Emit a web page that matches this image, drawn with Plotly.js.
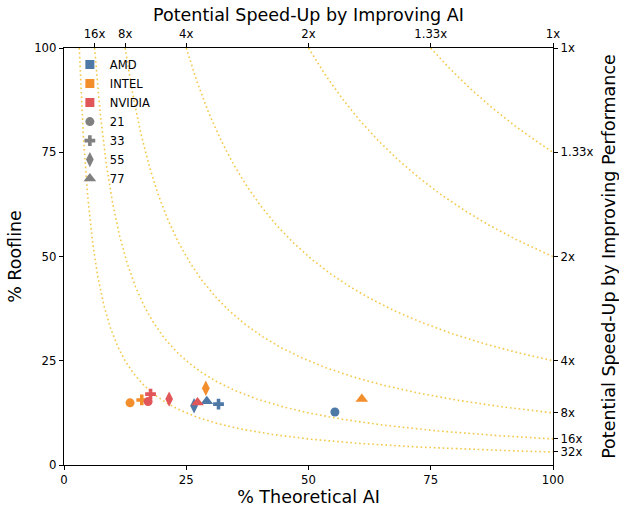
<!DOCTYPE html>
<html>
<head>
<meta charset="utf-8">
<script src="https://cdn.plot.ly/plotly-3.0.1.min.js"></script>
<style>html,body{margin:0;padding:0;background:#fff;}#chart{width:619px;height:507px;}</style>
</head>
<body>
<div id="chart"></div>
<script>
// Vendors and their colours
const vendors = ["AMD", "INTEL", "NVIDIA"];
const vendorColors = ["#4e79a7", "#f28e2b", "#e15759"];
// Sizes (style groups) and markers
const sizes = ["21", "33", "55", "77"];
const sizeSymbols = ["circle", "cross", "diamond-tall", "triangle-up"];

// Data points (% Theoretical AI, % Roofline)
const amdAI   = [55.4, 31.6, 26.6, 29.2];
const amdRoof = [12.7, 14.6, 14.2, 15.3];
const intelAI   = [13.5, 15.9, 29.0, 60.9];
const intelRoof = [14.9, 15.6, 18.4, 15.8];
const nvidiaAI   = [17.2, 17.7, 21.5, 27.3];
const nvidiaRoof = [15.2, 17.0, 15.8, 15.0];

// Speed-up guide levels
const speedups = [32, 16, 8, 4, 2, 4/3];
const topTickVals = [6.25, 12.5, 25, 50, 75, 100];
const topTickText = ["16x", "8x", "4x", "2x", "1.33x", "1x"];
const rightTickVals = [100, 75, 50, 25, 12.5, 6.25, 3.125];
const rightTickText = ["1x", "1.33x", "2x", "4x", "8x", "16x", "32x"];

const traces = [];
// iso speed-up curves: x * y = 10000 / s
speedups.forEach(s => {
  const k = 10000 / s;
  const x0 = k / 100;
  const xs = [], ys = [];
  const n = 300;
  for (let i = 0; i <= n; i++) {
    const x = x0 * Math.pow(100 / x0, i / n);
    xs.push(x); ys.push(k / x);
  }
  traces.push({x: xs, y: ys, mode: "lines", showlegend: false, hoverinfo: "skip",
    line: {color: "rgba(240,190,40,0.85)", width: 1.6, dash: "1.6px,2.8px"}});
});

const symSize = [9, 9, 11, 11];
const seriesX = [amdAI, intelAI, nvidiaAI];
const seriesY = [amdRoof, intelRoof, nvidiaRoof];
vendors.forEach((v, vi) => {
  sizes.forEach((s, si) => {
    traces.push({x: [seriesX[vi][si]], y: [seriesY[vi][si]], mode: "markers", showlegend: false,
      marker: {color: vendorColors[vi], symbol: sizeSymbols[si], size: symSize[si], line: {width: 0}}});
  });
});

// legend entries
vendors.forEach((v, vi) => {
  traces.push({x: [null], y: [null], mode: "markers", name: v,
    marker: {color: vendorColors[vi], symbol: "square", size: 9}});
});
sizes.forEach((s, si) => {
  traces.push({x: [null], y: [null], mode: "markers", name: s,
    marker: {color: "#808080", symbol: sizeSymbols[si], size: symSize[si]}});
});

// dummy trace for secondary axes
traces.push({x: [0, 100], y: [0, 100], xaxis: "x2", yaxis: "y2", mode: "markers",
  marker: {opacity: 0}, showlegend: false, hoverinfo: "skip"});

const tickFont = {family: "DejaVu Sans", size: 11.7, color: "#000"};
const titleFont = {family: "DejaVu Sans", size: 17.5, color: "#000"};
const axBase = {range: [0, 100], showgrid: false, zeroline: false, showline: true, linecolor: "#000",
  linewidth: 1.2, ticks: "outside", ticklen: 4, tickcolor: "#000", tickwidth: 1, tickfont: tickFont};

const layout = {
  width: 619, height: 507,
  margin: {l: 64, r: 66, t: 48, b: 42},
  paper_bgcolor: "#fff", plot_bgcolor: "#fff",
  font: {family: "DejaVu Sans", color: "#000"},
  xaxis: Object.assign({}, axBase, {tickvals: [0, 25, 50, 75, 100], ticktext: ["0", "25", "50", "75", "100"],
    title: {text: "% Theoretical AI", font: titleFont, standoff: 3}}),
  yaxis: Object.assign({}, axBase, {tickvals: [0, 25, 50, 75, 100], ticktext: ["0", "25", "50", "75", "100"],
    title: {text: "% Roofline", font: titleFont, standoff: 8}}),
  xaxis2: Object.assign({}, axBase, {overlaying: "x", side: "top", anchor: "y", tickvals: topTickVals, ticktext: topTickText,
    title: {text: "Potential Speed-Up by Improving AI", font: titleFont, standoff: 1}}),
  yaxis2: Object.assign({}, axBase, {overlaying: "y", side: "right", anchor: "x", tickvals: rightTickVals, ticktext: rightTickText,
    title: {text: "Potential Speed-Up by Improving Performance", font: titleFont, standoff: 12}}),
  legend: {x: 0.012, y: 0.995, xanchor: "left", yanchor: "top", bgcolor: "rgba(0,0,0,0)",
    font: {family: "DejaVu Sans", size: 11.5, color: "#000"}, itemwidth: 30, tracegroupgap: 0},
  showlegend: true
};

Plotly.newPlot("chart", traces, layout, {displayModeBar: false, staticPlot: true});
</script>
</body>
</html>
